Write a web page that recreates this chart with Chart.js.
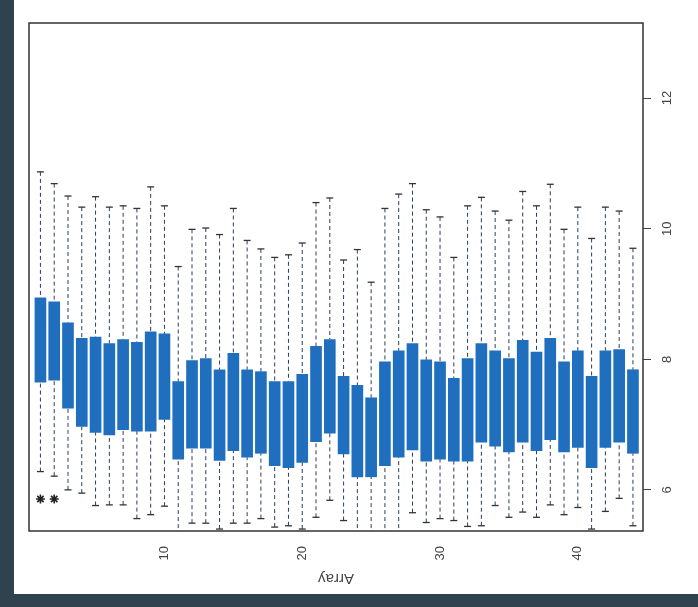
<!DOCTYPE html>
<html>
<head>
<meta charset="utf-8">
<script src="https://cdn.jsdelivr.net/npm/chart.js@4.4.1/dist/chart.umd.min.js"></script>
<style>
  html, body { margin: 0; padding: 0; background: #2f424e; }
  #panel { position: absolute; left: 14px; top: 0; width: 684px; height: 594px; background: #fff; }
</style>
</head>
<body>
<div id="panel"><canvas id="chart"></canvas></div>
<script>
// ───── Array boxplot, drawn rotated like the scanned figure ─────────────────
const ARRAYS = [1, 2, 3, 4, 5, 6, 7, 8, 9, 10, 11, 12, 13, 14, 15, 16, 17, 18, 19, 20, 21, 22,
                23, 24, 25, 26, 27, 28, 29, 30, 31, 32, 33, 34, 35, 36, 37, 38, 39, 40, 41, 42, 43, 44];
const Q1 = [7.65, 7.68, 7.25, 6.97, 6.88, 6.84, 6.92, 6.90, 6.90, 7.08, 6.47, 6.64, 6.64, 6.45, 6.60,
            6.50, 6.56, 6.37, 6.34, 6.42, 6.74, 6.87, 6.55, 6.20, 6.20, 6.37, 6.50, 6.61, 6.44, 6.47,
            6.44, 6.44, 6.73, 6.67, 6.58, 6.73, 6.60, 6.77, 6.58, 6.65, 6.34, 6.65, 6.73, 6.56];
const Q3 = [8.94, 8.88, 8.56, 8.32, 8.34, 8.24, 8.30, 8.26, 8.42, 8.39, 7.66, 7.98, 8.01, 7.84, 8.09,
            7.84, 7.81, 7.66, 7.66, 7.77, 8.20, 8.30, 7.74, 7.60, 7.41, 7.96, 8.13, 8.24, 7.99, 7.96,
            7.71, 8.01, 8.24, 8.13, 8.01, 8.29, 8.11, 8.32, 7.96, 8.13, 7.74, 8.13, 8.15, 7.84];
const LOW = [6.28, 6.21, 6.00, 5.95, 5.76, 5.77, 5.77, 5.56, 5.62, 5.75, 5.20, 5.49, 5.49, 5.40, 5.49,
             5.49, 5.56, 5.43, 5.45, 5.40, 5.58, 5.84, 5.53, 5.20, 5.20, 5.20, 5.20, 5.65, 5.50, 5.56,
             5.53, 5.44, 5.45, 5.76, 5.58, 5.66, 5.58, 5.77, 5.62, 5.73, 5.40, 5.67, 5.87, 5.45];
const HIGH = [10.87, 10.69, 10.50, 10.33, 10.49, 10.33, 10.35, 10.31, 10.64, 10.35, 9.42, 9.99, 10.01,
              9.91, 10.31, 9.82, 9.69, 9.56, 9.60, 9.78, 10.40, 10.47, 9.52, 9.68, 9.18, 10.31, 10.53,
              10.69, 10.29, 10.18, 9.56, 10.35, 10.48, 10.27, 10.13, 10.57, 10.35, 10.68, 9.99, 10.33,
              9.85, 10.33, 10.27, 9.70];
const OUTLIER_X = [1, 2];
const OUTLIER_Y = [5.86, 5.86];
const X_TICKS = [10, 20, 30, 40];
const Y_TICKS = [6, 8, 10, 12];
const X_TITLE = 'Array';

const BOX_BLUE = '#1f6fbe';
const WHISKER = '#2c3e58';
const INK = '#444';

function _whiskerPoints(ends, edges) {
  const pts = [];
  ARRAYS.forEach((a, i) => {
    pts.push({ x: a, y: ends[i] });
    pts.push({ x: a, y: edges[i] });
    pts.push({ x: a, y: null });
  });
  return pts;
}

const caps = [];
ARRAYS.forEach((a, i) => {
  caps.push({ x: a, y: HIGH[i] });
  caps.push({ x: a, y: LOW[i] });
});

// Frame round the plot plus the rotated value labels and upside-down title.
const frameAndText = {
  id: 'frameAndText',
  afterDraw(chart) {
    const { ctx, chartArea: area, scales } = chart;
    ctx.save();
    ctx.strokeStyle = '#333';
    ctx.lineWidth = 1.5;
    ctx.strokeRect(area.left, area.top, area.right - area.left, area.bottom - area.top);

    ctx.fillStyle = INK;
    ctx.font = '13px "Liberation Sans", Arial, sans-serif';
    ctx.textAlign = 'center';
    ctx.textBaseline = 'middle';
    Y_TICKS.forEach((v) => {
      const y = scales.y.getPixelForValue(v);
      ctx.save();
      ctx.translate(area.right + 24, y);
      ctx.rotate(-Math.PI / 2);
      ctx.fillText(String(v), 0, 0);
      ctx.restore();
    });

    ctx.font = '15px "Liberation Sans", Arial, sans-serif';
    ctx.translate((area.left + area.right) / 2, area.bottom + 47);
    ctx.rotate(Math.PI);
    ctx.fillText(X_TITLE, 0, 0);
    ctx.restore();
  },
};

new Chart(document.getElementById('chart'), {
  data: {
    datasets: [
      {
        type: 'bar',
        data: ARRAYS.map((a, i) => ({ x: a, y: [Q1[i], Q3[i]] })),
        backgroundColor: BOX_BLUE,
        borderWidth: 0,
        barThickness: 11,
        order: 1,
      },
      {
        type: 'line',
        data: _whiskerPoints(HIGH, Q3),
        borderColor: WHISKER,
        borderWidth: 1,
        borderDash: [4, 3],
        pointRadius: 0,
        spanGaps: false,
        order: 2,
      },
      {
        type: 'line',
        data: _whiskerPoints(LOW, Q1),
        borderColor: WHISKER,
        borderWidth: 1,
        borderDash: [4, 3],
        pointRadius: 0,
        spanGaps: false,
        order: 2,
      },
      {
        type: 'scatter',
        data: caps,
        pointStyle: 'line',
        pointRadius: 3.5,
        borderColor: '#333',
        borderWidth: 1.3,
        order: 0,
      },
      {
        type: 'scatter',
        data: OUTLIER_X.map((x, i) => ({ x, y: OUTLIER_Y[i] })),
        pointStyle: 'star',
        pointRadius: 4.5,
        borderColor: '#222',
        borderWidth: 1.6,
        order: 0,
      },
    ],
  },
  options: {
    responsive: true,
    maintainAspectRatio: false,
    animation: false,
    layout: { padding: { left: 15, top: 23, right: 0, bottom: 0 } },
    plugins: { legend: { display: false }, tooltip: { enabled: false } },
    scales: {
      x: {
        type: 'linear',
        offset: false,
        min: 0.17,
        max: 44.73,
        afterBuildTicks(scale) { scale.ticks = X_TICKS.map((v) => ({ value: v })); },
        afterFit(scale) { scale.height = 63; },
        grid: { display: false },
        border: { display: false },
        ticks: {
          autoSkip: false,
          minRotation: 90,
          maxRotation: 90,
          padding: 7,
          color: INK,
          font: { size: 13, family: '"Liberation Sans", Arial, sans-serif' },
        },
      },
      y: {
        position: 'right',
        min: 5.37,
        max: 13.15,
        afterBuildTicks(scale) { scale.ticks = Y_TICKS.map((v) => ({ value: v })); },
        afterFit(scale) { scale.width = 55; },
        border: { display: false },
        grid: { drawOnChartArea: false, drawTicks: true, tickLength: 8, color: INK },
        ticks: { display: false },
      },
    },
  },
  plugins: [frameAndText],
});
</script>
</body>
</html>
